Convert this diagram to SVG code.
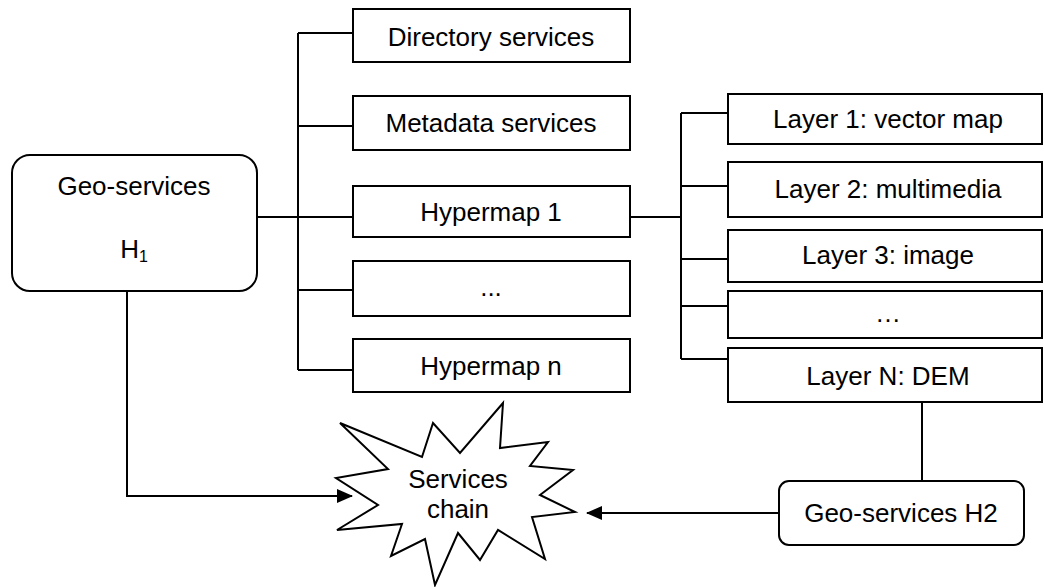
<svg xmlns="http://www.w3.org/2000/svg" width="1045" height="587" viewBox="0 0 1045 587">
  <style>
    .box { fill: #ffffff; stroke: #000000; stroke-width: 2; }
    .wire { fill: none; stroke: #000000; stroke-width: 2; }
    .lbl { font-family: "Liberation Sans", Arial, sans-serif; font-size: 26px; fill: #000000; text-anchor: middle; }
  </style>
  <defs>
    <marker id="arrow" markerWidth="16" markerHeight="14" refX="15" refY="7" orient="auto" markerUnits="userSpaceOnUse">
      <path d="M0,0 L16,7 L0,14 Z" fill="#000000"/>
    </marker>
  </defs>

  <rect width="1045" height="587" fill="#ffffff"/>

  <!-- connectors -->
  <g id="connectors">
    <path class="wire" d="M257 217 H298"/>
    <path class="wire" d="M298 33 V370"/>
    <path class="wire" d="M298 33 H353 M298 126 H353 M298 217 H353 M298 290 H353 M298 370 H353"/>
    <path class="wire" d="M630 217 H681"/>
    <path class="wire" d="M681 113 V359"/>
    <path class="wire" d="M681 113 H728 M681 186 H728 M681 259 H728 M681 306 H728 M681 359 H728"/>
    <path class="wire" d="M922 402 V481"/>
    <path class="wire" d="M127 291 V496 H352" marker-end="url(#arrow)"/>
    <path class="wire" d="M779 513 H587" marker-end="url(#arrow)"/>
  </g>

  <g id="geo-h1">
    <rect class="box" x="12" y="155" width="245" height="136" rx="18"/>
    <text class="lbl" x="134" y="195">Geo-services</text>
    <text class="lbl" x="134" y="258">H<tspan font-size="16" dy="4">1</tspan></text>
  </g>

  <g id="directory">
    <rect class="box" x="353" y="9" width="277" height="53"/>
    <text class="lbl" x="491" y="46">Directory services</text>
  </g>
  <g id="metadata">
    <rect class="box" x="353" y="96" width="277" height="54"/>
    <text class="lbl" x="491" y="132">Metadata services</text>
  </g>
  <g id="hypermap-1">
    <rect class="box" x="353" y="186" width="277" height="51"/>
    <text class="lbl" x="491" y="221">Hypermap 1</text>
  </g>
  <g id="hypermap-more">
    <rect class="box" x="353" y="261" width="277" height="55"/>
    <text class="lbl" x="491" y="296">...</text>
  </g>
  <g id="hypermap-n">
    <rect class="box" x="353" y="339" width="277" height="53"/>
    <text class="lbl" x="491" y="375">Hypermap n</text>
  </g>

  <g id="layer-1">
    <rect class="box" x="728" y="94" width="314" height="50"/>
    <text class="lbl" x="888" y="128">Layer 1: vector map</text>
  </g>
  <g id="layer-2">
    <rect class="box" x="728" y="162" width="314" height="55"/>
    <text class="lbl" x="888" y="198">Layer 2: multimedia</text>
  </g>
  <g id="layer-3">
    <rect class="box" x="728" y="230" width="314" height="52"/>
    <text class="lbl" x="888" y="264">Layer 3: image</text>
  </g>
  <g id="layer-more">
    <rect class="box" x="728" y="291" width="314" height="47"/>
    <text class="lbl" x="888" y="322">…</text>
  </g>
  <g id="layer-n">
    <rect class="box" x="728" y="348" width="314" height="54"/>
    <text class="lbl" x="888" y="385">Layer N: DEM</text>
  </g>

  <g id="geo-h2">
    <rect class="box" x="779" y="481" width="245" height="64" rx="10"/>
    <text class="lbl" x="901" y="522">Geo-services H2</text>
  </g>

  <g id="services-chain">
    <polygon class="box" points="340,423 422,457 433,423 460,453 503,403 500,448 548,442 530,466 573,470 540,495 575,512 532,517 545,559 498,530 480,560 458,533 435,585 425,539 391,556 402,524 337,530 378,505 336,478 388,469"/>
    <text class="lbl" x="458" y="488">Services</text>
    <text class="lbl" x="458" y="518">chain</text>
  </g>
</svg>
